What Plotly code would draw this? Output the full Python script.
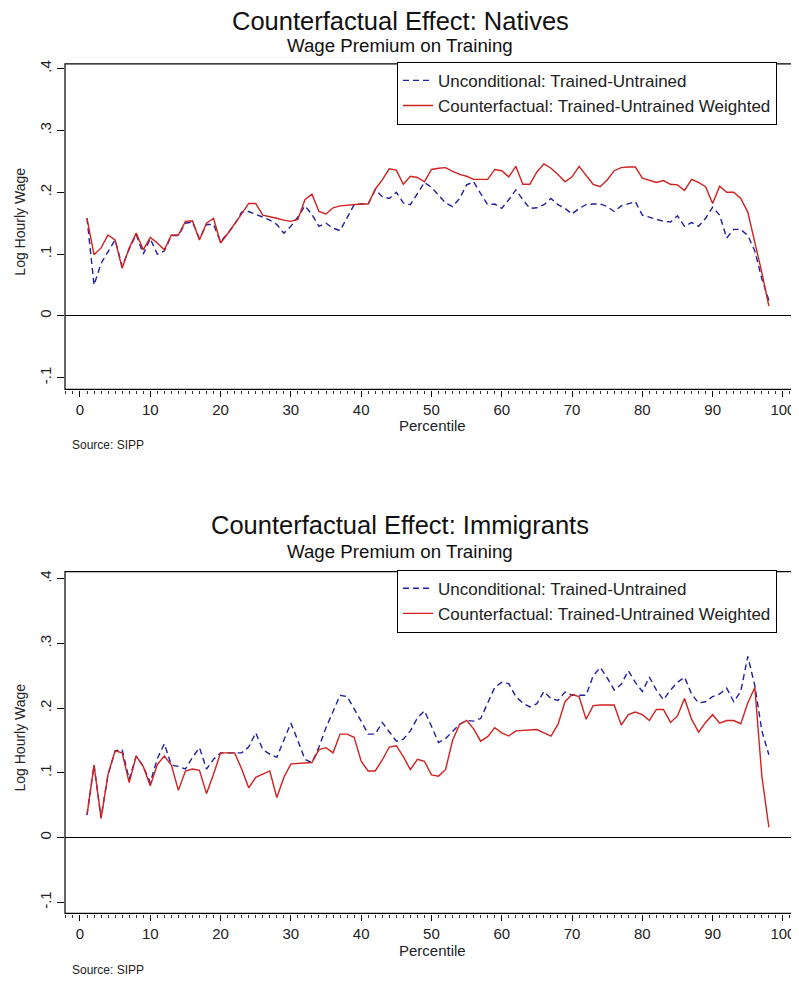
import plotly.graph_objects as go

percentile = list(range(1, 99))

natives_unconditional = [
    0.158, 0.050, 0.085, 0.105, 0.123, 0.080, 0.108, 0.132, 0.100, 0.125,
    0.100, 0.105, 0.130, 0.130, 0.150, 0.152, 0.125, 0.148, 0.148, 0.120,
    0.133, 0.148, 0.168, 0.169, 0.165, 0.160, 0.155, 0.148, 0.134, 0.145,
    0.160, 0.178, 0.164, 0.145, 0.150, 0.142, 0.138, 0.160, 0.180, 0.181,
    0.181, 0.204, 0.193, 0.190, 0.200, 0.183, 0.180, 0.198, 0.216, 0.208,
    0.195, 0.183, 0.177, 0.190, 0.212, 0.217, 0.198, 0.180, 0.181, 0.174,
    0.188, 0.204, 0.188, 0.174, 0.175, 0.180, 0.190, 0.180, 0.174, 0.165,
    0.174, 0.180, 0.181, 0.181, 0.177, 0.169, 0.178, 0.182, 0.185, 0.163,
    0.160, 0.156, 0.153, 0.152, 0.162, 0.145, 0.151, 0.145, 0.158, 0.176,
    0.163, 0.126, 0.140, 0.140, 0.130, 0.105, 0.060, 0.025,
]
natives_counterfactual = [
    0.158, 0.099, 0.110, 0.131, 0.123, 0.077, 0.110, 0.134, 0.107, 0.127,
    0.118, 0.107, 0.131, 0.131, 0.153, 0.154, 0.123, 0.150, 0.158, 0.118,
    0.133, 0.148, 0.165, 0.182, 0.182, 0.163, 0.161, 0.158, 0.155, 0.153,
    0.156, 0.188, 0.197, 0.169, 0.165, 0.175, 0.178, 0.179, 0.181, 0.181,
    0.181, 0.205, 0.220, 0.238, 0.236, 0.213, 0.226, 0.224, 0.217, 0.237,
    0.239, 0.240, 0.234, 0.229, 0.226, 0.221, 0.221, 0.221, 0.237, 0.235,
    0.225, 0.242, 0.213, 0.213, 0.233, 0.246, 0.239, 0.229, 0.217, 0.225,
    0.242, 0.228, 0.213, 0.209, 0.220, 0.235, 0.240, 0.241, 0.241, 0.223,
    0.220, 0.216, 0.219, 0.213, 0.212, 0.203, 0.221, 0.216, 0.209, 0.182,
    0.210, 0.200, 0.200, 0.190, 0.168, 0.120, 0.070, 0.016,
]
immigrants_unconditional = [
    0.035, 0.112, 0.030, 0.098, 0.134, 0.136, 0.090, 0.126, 0.110, 0.085,
    0.122, 0.145, 0.112, 0.110, 0.106, 0.124, 0.139, 0.106, 0.121, 0.131,
    0.131, 0.131, 0.131, 0.140, 0.162, 0.136, 0.129, 0.124, 0.150, 0.177,
    0.150, 0.121, 0.116, 0.140, 0.170, 0.195, 0.220, 0.218, 0.200, 0.180,
    0.160, 0.160, 0.178, 0.163, 0.149, 0.152, 0.165, 0.185, 0.196, 0.172,
    0.147, 0.153, 0.164, 0.175, 0.181, 0.180, 0.184, 0.208, 0.232, 0.240,
    0.238, 0.218, 0.208, 0.202, 0.207, 0.226, 0.215, 0.212, 0.225, 0.220,
    0.220, 0.220, 0.250, 0.263, 0.247, 0.228, 0.237, 0.258, 0.240, 0.226,
    0.248, 0.228, 0.213, 0.228, 0.240, 0.248, 0.222, 0.208, 0.210, 0.218,
    0.222, 0.231, 0.210, 0.226, 0.280, 0.235, 0.165, 0.128,
]
immigrants_counterfactual = [
    0.035, 0.112, 0.030, 0.098, 0.134, 0.131, 0.085, 0.126, 0.110, 0.080,
    0.113, 0.126, 0.112, 0.073, 0.103, 0.106, 0.104, 0.068, 0.098, 0.131,
    0.131, 0.131, 0.106, 0.077, 0.093, 0.098, 0.103, 0.062, 0.093, 0.114,
    0.115, 0.116, 0.116, 0.136, 0.139, 0.131, 0.160, 0.160, 0.155, 0.118,
    0.103, 0.103, 0.120, 0.140, 0.142, 0.125, 0.105, 0.121, 0.118, 0.097,
    0.095, 0.105, 0.150, 0.175, 0.181, 0.168, 0.149, 0.156, 0.170, 0.162,
    0.157, 0.165, 0.166, 0.167, 0.167, 0.162, 0.157, 0.175, 0.210, 0.221,
    0.218, 0.183, 0.204, 0.205, 0.205, 0.205, 0.174, 0.190, 0.194, 0.190,
    0.181, 0.198, 0.198, 0.178, 0.188, 0.215, 0.183, 0.163, 0.178, 0.190,
    0.177, 0.181, 0.181, 0.176, 0.208, 0.232, 0.095, 0.016,
]

x_tick_vals = [0, 10, 20, 30, 40, 50, 60, 70, 80, 90, 100]
y_tick_vals = [-0.1, 0, 0.1, 0.2, 0.3, 0.4]
y_tick_text = ["-.1", "0", ".1", ".2", ".3", ".4"]

panel_titles = ["Counterfactual Effect: Natives", "Counterfactual Effect: Immigrants"]
subtitle = "Wage Premium on Training"
legend_names = ["Unconditional: Trained-Untrained", "Counterfactual: Trained-Untrained Weighted"]

# the page body has an 8px default margin; lay out in window pixels
OFF = 8
W, H = 799 - OFF, 984 - OFF
FONT = "Liberation Sans, Arial, sans-serif"
BLUE = "#1f1fa0"
RED = "#d0211f"
TXT = "#222"


def py(p):
    return 1 - (p - OFF) / H


def px(p):
    return (p - OFF) / W


fig = go.Figure()

panels = [
    dict(unc=natives_unconditional, cf=natives_counterfactual, xa="x", ya="y", leg="legend",
         box=(60, 387), yrange=[-0.119, 0.408], title_y=17, sub_y=42, leg_top=58,
         src_y=443, pct_y=423),
    dict(unc=immigrants_unconditional, cf=immigrants_counterfactual, xa="x2", ya="y2", leg="legend2",
         box=(570, 913), yrange=[-0.117, 0.411], title_y=523, sub_y=550, leg_top=568,
         src_y=970, pct_y=950),
]

xdom = [px(65), px(797)]
xrange = [-2.13, 102.0]

for i, pn in enumerate(panels):
    fig.add_trace(go.Scatter(
        x=percentile, y=pn["unc"], mode="lines", name=legend_names[0],
        line=dict(color=BLUE, width=1.4, dash="6px,4px"),
        xaxis=pn["xa"], yaxis=pn["ya"], legend=pn["leg"], legendgroup=f"u{i}",
    ))
    fig.add_trace(go.Scatter(
        x=percentile, y=pn["cf"], mode="lines", name=legend_names[1],
        line=dict(color=RED, width=1.4),
        xaxis=pn["xa"], yaxis=pn["ya"], legend=pn["leg"], legendgroup=f"c{i}",
    ))

    sfx = "" if i == 0 else "2"
    top, bot = pn["box"]
    fig.update_layout(**{
        f"xaxis{sfx}": dict(
            domain=xdom, range=xrange, anchor="free", position=py(bot + 1),
            tickvals=x_tick_vals, ticks="outside", ticklen=6, tickcolor="black",
            tickfont=dict(family=FONT, size=15, color=TXT),
            minor=dict(dtick=1, tick0=0, ticks="outside", ticklen=3, tickcolor="#333"),
            showgrid=False, zeroline=False, showline=False,
        ),
        f"yaxis{sfx}": dict(
            domain=[py(bot), py(top)], range=pn["yrange"], anchor="x" + sfx,
            tickvals=y_tick_vals, ticktext=y_tick_text, tickangle=-90,
            ticks="outside", ticklen=7, tickcolor="black",
            tickfont=dict(family=FONT, size=15, color=TXT),
            showgrid=False, zeroline=True, zerolinecolor="black", zerolinewidth=1,
            showline=False,
        ),
        pn["leg"]: dict(
            x=px(397), y=py(pn["leg_top"]), xanchor="left", yanchor="top",
            bordercolor="black", borderwidth=1, bgcolor="white",
            font=dict(family=FONT, size=17, color=TXT),
            traceorder="grouped", tracegroupgap=0, itemwidth=30,
        ),
    })

    fig.add_shape(type="rect", xref=f"x{sfx} domain", yref=f"y{sfx} domain",
                  x0=0, x1=1, y0=0, y1=1, line=dict(color="black", width=1.2))

    fig.add_annotation(text=panel_titles[i], xref="paper", yref="paper",
                       x=px(400), y=py(pn["title_y"]), xanchor="center", yanchor="middle",
                       showarrow=False, font=dict(family=FONT, size=25.5, color="#111"))
    fig.add_annotation(text=subtitle, xref="paper", yref="paper",
                       x=px(400), y=py(pn["sub_y"]), xanchor="center", yanchor="middle",
                       showarrow=False, font=dict(family=FONT, size=18.7, color="#111"))
    fig.add_annotation(text="Percentile", xref="paper", yref="paper",
                       x=px(432), y=py(pn["pct_y"]), xanchor="center", yanchor="middle",
                       showarrow=False, font=dict(family=FONT, size=15, color=TXT))
    fig.add_annotation(text="Source: SIPP", xref="paper", yref="paper",
                       x=px(70), y=py(pn["src_y"]), xanchor="left", yanchor="middle",
                       showarrow=False, font=dict(family=FONT, size=12, color=TXT))
    fig.add_annotation(text="Log Hourly Wage", xref="paper", yref="paper",
                       x=px(20), y=py((top + bot) / 2 - 5), xanchor="center", yanchor="middle",
                       textangle=-90, showarrow=False,
                       font=dict(family=FONT, size=14, color=TXT))

fig.update_layout(
    width=W, height=H, margin=dict(l=0, r=0, t=0, b=0),
    paper_bgcolor="white", plot_bgcolor="white", showlegend=True,
)

fig.write_html("out.html")
